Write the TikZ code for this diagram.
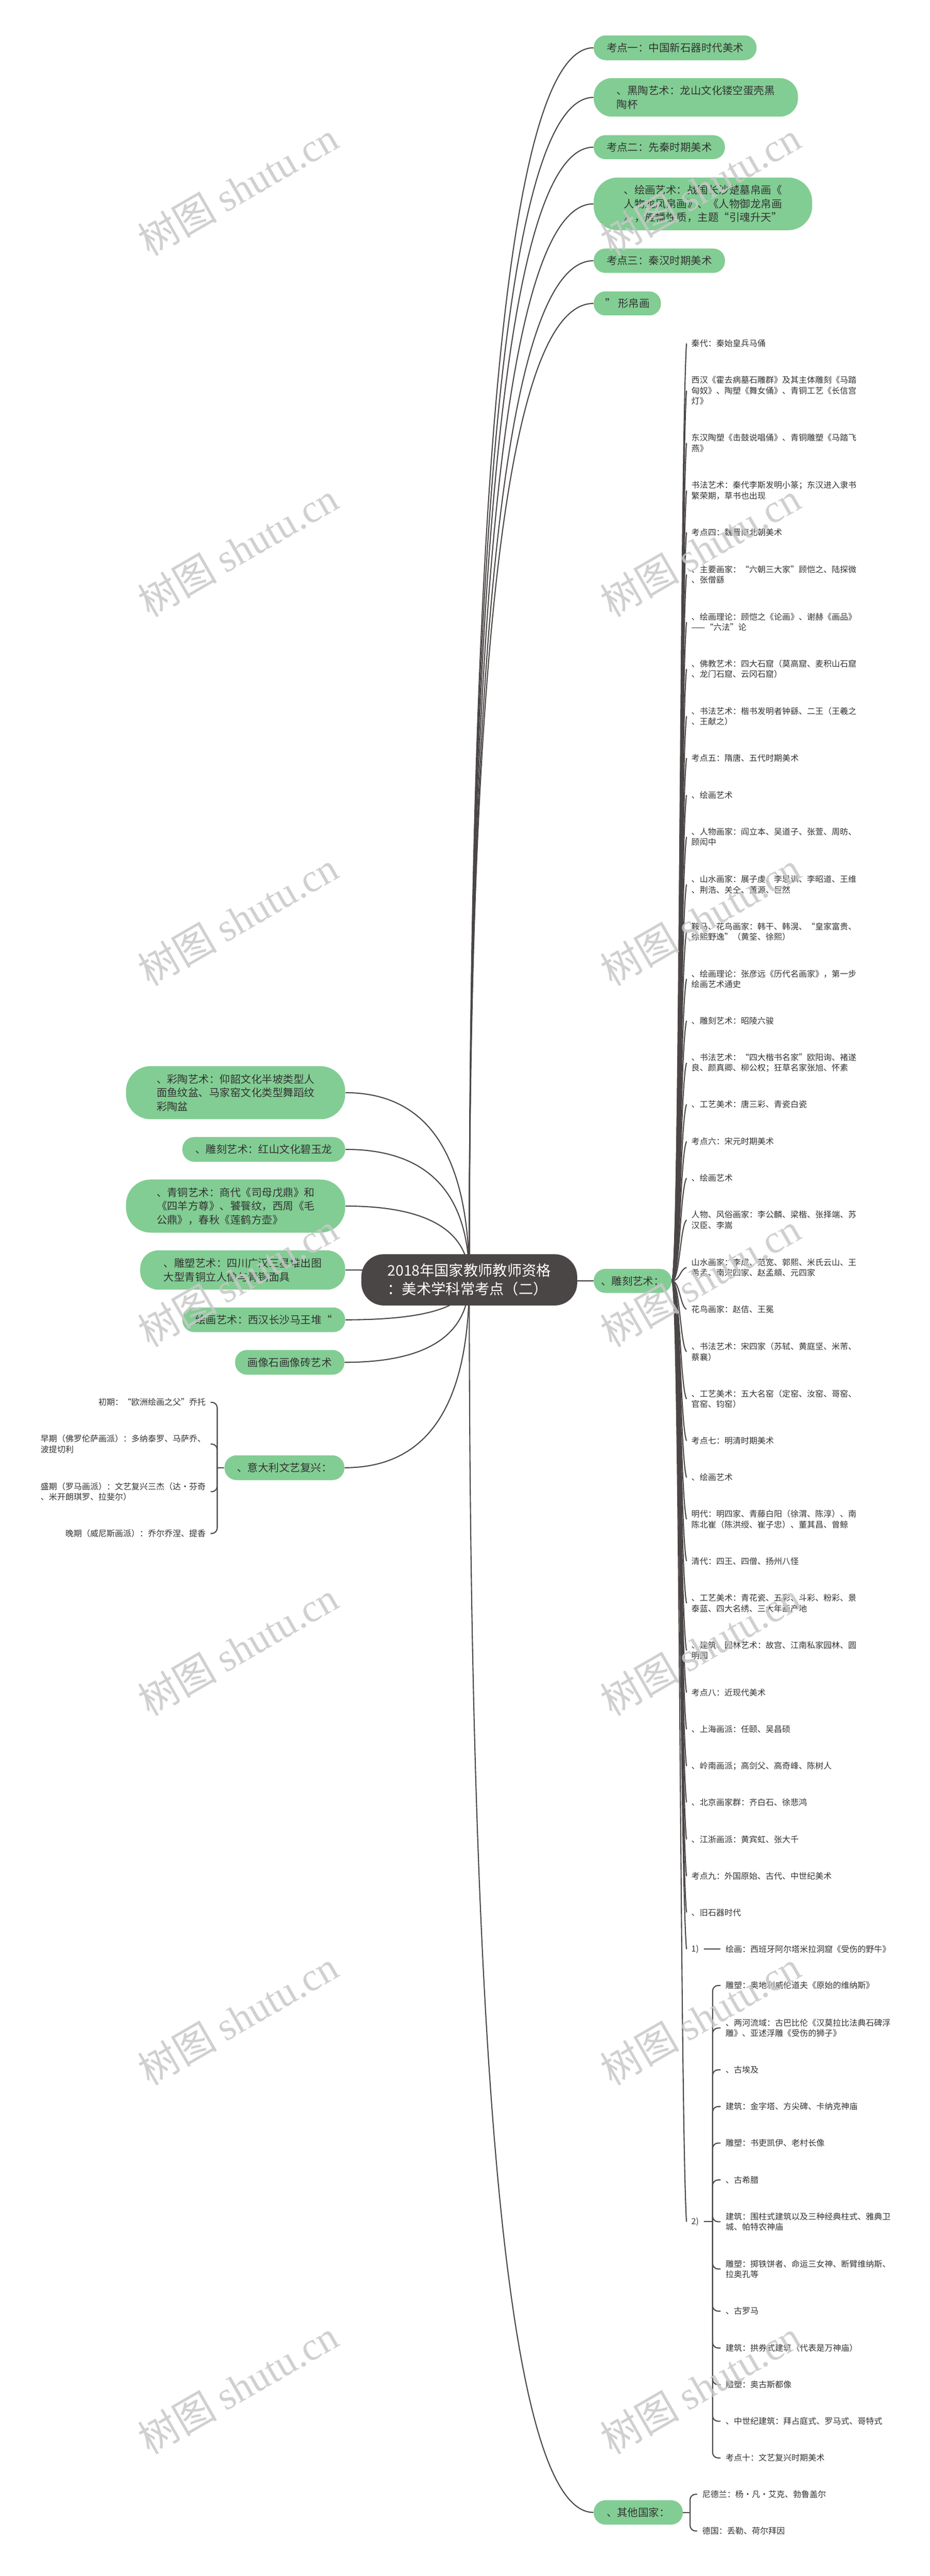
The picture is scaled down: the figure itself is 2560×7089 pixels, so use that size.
\documentclass[tikz,border=0pt]{standalone}
\usepackage{fontspec}
\setmainfont{Noto Sans CJK SC}
\newfontfamily\wmserif{Liberation Serif}
\usetikzlibrary{calc}
\definecolor{gfill}{RGB}{130,205,147}
\definecolor{rootfill}{RGB}{75,70,70}
\definecolor{linec}{RGB}{75,70,70}
\definecolor{txt}{RGB}{51,51,51}
\definecolor{wm}{RGB}{200,200,200}
\pgfdeclarelayer{bg}
\pgfsetlayers{bg,main}
\begin{document}
\begin{tikzpicture}[x=0.01cm,y=-0.01cm,
  conn/.style={draw=linec,line width=0.85pt},
  gnode/.style={fill=gfill,anchor=west,inner sep=0pt,align=left,text=txt,font=\fontsize{8.25pt}{10.67pt}\selectfont},
  gleft/.style={gnode,anchor=east},
  rootnode/.style={fill=rootfill,inner sep=0pt,align=left,text=white,font=\fontsize{11.4pt}{14.65pt}\selectfont,rounded corners=0.62cm,minimum width=5.94cm,minimum height=1.41cm},
  item/.style={anchor=west,inner xsep=0.13cm,inner ysep=0pt,align=left,text=txt,font=\fontsize{6.46pt}{8.25pt}\selectfont},
  litem/.style={item,anchor=east},
  wmark/.style={text=wm,opacity=0.85,rotate=30,inner sep=0pt,font=\fontsize{31pt}{31pt}\selectfont},
]
\useasboundingbox (0,0) rectangle (2560,7089);

% root
\node[rootnode] (root) at (1292,3522) {2018年国家教师教师资格\\：美术学科常考点（二）};

% right top green nodes
\node[gnode,minimum width=4.48cm,minimum height=0.68cm,rounded corners=0.33cm] (g1) at (1634,131.5) {考点一：中国新石器时代美术};
\node[gnode,minimum width=5.62cm,minimum height=1.06cm,rounded corners=0.5cm] (g2) at (1634,268) {、黑陶艺术：龙山文化镂空蛋壳黑\\陶杯};
\node[gnode,minimum width=3.61cm,minimum height=0.66cm,rounded corners=0.32cm] (g3) at (1634,405) {考点二：先秦时期美术};
\node[gnode,minimum width=6.01cm,minimum height=1.45cm,rounded corners=0.66cm] (g4) at (1634,561) {、绘画艺术：战国长沙楚墓帛画《\\人物龙凤帛画》、《人物御龙帛画\\》，旌幡性质，主题“引魂升天”};
\node[gnode,minimum width=3.61cm,minimum height=0.67cm,rounded corners=0.32cm] (g5) at (1634,717.5) {考点三：秦汉时期美术};
\node[gnode,minimum width=1.85cm,minimum height=0.66cm,rounded corners=0.32cm] (g6) at (1634,835) {” 形帛画};
\node[gnode,minimum width=2.14cm,minimum height=0.66cm,rounded corners=0.32cm] (g7) at (1634,3525) {、雕刻艺术：};
\node[gnode,minimum width=2.45cm,minimum height=0.67cm,rounded corners=0.32cm] (g8) at (1634,6914) {、其他国家：};

% left green nodes
\node[gleft,minimum width=6.03cm,minimum height=1.46cm,rounded corners=0.68cm] (l1) at (951,3007) {、彩陶艺术：仰韶文化半坡类型人\\面鱼纹盆、马家窑文化类型舞蹈纹\\彩陶盆};
\node[gleft,minimum width=4.48cm,minimum height=0.68cm,rounded corners=0.33cm] (l2) at (951,3163) {、雕刻艺术：红山文化碧玉龙};
\node[gleft,minimum width=6.03cm,minimum height=1.46cm,rounded corners=0.68cm] (l3) at (951,3319) {、青铜艺术：商代《司母戊鼎》和\\《四羊方尊》、饕餮纹，西周《毛\\公鼎》，春秋《莲鹤方壶》};
\node[gleft,minimum width=5.64cm,minimum height=1.08cm,rounded corners=0.5cm] (l4) at (951,3495) {、雕塑艺术：四川广汉三星堆出图\\大型青铜立人像与青铜面具};
\node[gleft,minimum width=4.48cm,minimum height=0.68cm,rounded corners=0.33cm] (l5) at (951,3632) {绘画艺术：西汉长沙马王堆“};
\node[gleft,minimum width=3.01cm,minimum height=0.68cm,rounded corners=0.33cm] (l6) at (949,3749) {画像石画像砖艺术};
\node[gleft,minimum width=3.30cm,minimum height=0.68cm,rounded corners=0.33cm] (l7) at (949,4039) {、意大利文艺复兴：};

% right column items
\node[item] (r1) at (1890,945) {秦代：秦始皇兵马俑};
\node[item] (r2) at (1890,1075) {西汉《霍去病墓石雕群》及其主体雕刻《马踏\\匈奴》、陶塑《舞女俑》、青铜工艺《长信宫\\灯》};
\node[item] (r3) at (1890,1219) {东汉陶塑《击鼓说唱俑》、青铜雕塑《马踏飞\\燕》};
\node[item] (r4) at (1890,1350) {书法艺术：秦代李斯发明小篆；东汉进入隶书\\繁荣期，草书也出现};
\node[item] (r5) at (1890,1465) {考点四：魏晋南北朝美术};
\node[item] (r6) at (1890,1581) {、主要画家：“六朝三大家”顾恺之、陆探微\\、张僧繇};
\node[item] (r7) at (1890,1712) {、绘画理论：顾恺之《论画》、谢赫《画品》\\——“六法”论};
\node[item] (r8) at (1890,1841) {、佛教艺术：四大石窟（莫高窟、麦积山石窟\\、龙门石窟、云冈石窟）};
\node[item] (r9) at (1890,1971) {、书法艺术：楷书发明者钟繇、二王（王羲之\\、王献之）};
\node[item] (r10) at (1890,2086) {考点五：隋唐、五代时期美术};
\node[item] (r11) at (1890,2188) {、绘画艺术};
\node[item] (r12) at (1890,2303) {、人物画家：阎立本、吴道子、张萱、周昉、\\顾闳中};
\node[item] (r13) at (1890,2434) {、山水画家：展子虔、李思训、李昭道、王维\\、荆浩、关仝、董源、巨然};
\node[item] (r14) at (1890,2564) {鞍马、花鸟画家：韩干、韩滉、“皇家富贵、\\徐熙野逸”（黄筌、徐熙）};
\node[item] (r15) at (1890,2694) {、绘画理论：张彦远《历代名画家》，第一步\\绘画艺术通史};
\node[item] (r16) at (1890,2809) {、雕刻艺术：昭陵六骏};
\node[item] (r17) at (1890,2925) {、书法艺术：“四大楷书名家”欧阳询、褚遂\\良、颜真卿、柳公权；狂草名家张旭、怀素};
\node[item] (r18) at (1890,3039) {、工艺美术：唐三彩、青瓷白瓷};
\node[item] (r19) at (1890,3141) {考点六：宋元时期美术};
\node[item] (r20) at (1890,3242) {、绘画艺术};
\node[item] (r21) at (1890,3357) {人物、风俗画家：李公麟、梁楷、张择端、苏\\汉臣、李嵩};
\node[item] (r22) at (1890,3488) {山水画家：李成、范宽、郭熙、米氏云山、王\\希孟、南宋四家、赵孟頫、元四家};
\node[item] (r23) at (1890,3603) {花鸟画家：赵佶、王冕};
\node[item] (r24) at (1890,3720) {、书法艺术：宋四家（苏轼、黄庭坚、米芾、\\蔡襄）};
\node[item] (r25) at (1890,3850) {、工艺美术：五大名窑（定窑、汝窑、哥窑、\\官窑、钧窑）};
\node[item] (r26) at (1890,3965) {考点七：明清时期美术};
\node[item] (r27) at (1890,4066) {、绘画艺术};
\node[item] (r28) at (1890,4181) {明代：明四家、青藤白阳（徐渭、陈淳）、南\\陈北崔（陈洪绶、崔子忠）、董其昌、曾鲸};
\node[item] (r29) at (1890,4296) {清代：四王、四僧、扬州八怪};
\node[item] (r30) at (1890,4412) {、工艺美术：青花瓷、五彩、斗彩、粉彩、景\\泰蓝、四大名绣、三大年画产地};
\node[item] (r31) at (1890,4542) {、建筑、园林艺术：故宫、江南私家园林、圆\\明园};
\node[item] (r32) at (1890,4658) {考点八：近现代美术};
\node[item] (r33) at (1890,4759) {、上海画派：任颐、吴昌硕};
\node[item] (r34) at (1890,4860) {、岭南画派；高剑父、高奇峰、陈树人};
\node[item] (r35) at (1890,4960) {、北京画家群：齐白石、徐悲鸿};
\node[item] (r36) at (1890,5062) {、江浙画派：黄宾虹、张大千};
\node[item] (r37) at (1890,5163) {考点九：外国原始、古代、中世纪美术};
\node[item] (r38) at (1890,5263) {、旧石器时代};
\node[item] (n1) at (1890,5364) {1)};
\node[item] (n2) at (1890,6114) {2)};

\node[item] (n1c) at (1984,5364) {绘画：西班牙阿尔塔米拉洞窟《受伤的野牛》};

\node[item] (c1) at (1984,5464) {雕塑：奥地利威伦道夫《原始的维纳斯》};
\node[item] (c2) at (1984,5581) {、两河流域：古巴比伦《汉莫拉比法典石碑浮\\雕》、亚述浮雕《受伤的狮子》};
\node[item] (c3) at (1984,5696) {、古埃及};
\node[item] (c4) at (1984,5797) {建筑：金字塔、方尖碑、卡纳克神庙};
\node[item] (c5) at (1984,5897.5) {雕塑：书吏凯伊、老村长像};
\node[item] (c6) at (1984,5999) {、古希腊};
\node[item] (c7) at (1984,6114) {建筑：围柱式建筑以及三种经典柱式、雅典卫\\城、帕特农神庙};
\node[item] (c8) at (1984,6244) {雕塑：掷铁饼者、命运三女神、断臂维纳斯、\\拉奥孔等};
\node[item] (c9) at (1984,6360) {、古罗马};
\node[item] (c10) at (1984,6461.5) {建筑：拱券式建筑（代表是万神庙）};
\node[item] (c11) at (1984,6562.5) {雕塑：奥古斯都像};
\node[item] (c12) at (1984,6663) {、中世纪建筑：拜占庭式、罗马式、哥特式};
\node[item] (c13) at (1984,6764) {考点十：文艺复兴时期美术};

\node[item] (d1) at (1920,6864) {尼德兰：杨·凡·艾克、勃鲁盖尔};
\node[item] (d2) at (1920,6965) {德国：丢勒、荷尔拜因};

\node[litem] (e1) at (580,3859) {初期：“欧洲绘画之父”乔托};
\node[litem] (e2) at (580,3974) {早期（佛罗伦萨画派）：多纳泰罗、马萨乔、\\波提切利};
\node[litem] (e3) at (580,4105) {盛期（罗马画派）：文艺复兴三杰（达·芬奇\\、米开朗琪罗、拉斐尔）};
\node[litem] (e4) at (580,4220) {晚期（威尼斯画派）：乔尔乔涅、提香};

\coordinate (b2) at (1962,6114);
\coordinate (b8) at (1900,6914);
\coordinate (b7) at (598,4039);

\begin{pgfonlayer}{bg}
\fill[white] (0,0) rectangle (2560,7089);
% root to right nodes
\foreach \n/\y in {g1/131.5,g2/268,g3/405,g4/561,g5/717.5,g6/835,g7/3525,g8/6914}
  \draw[conn] (root.center) .. controls (1292,{3522+2/3*(\y-3522)}) and (1406,\y) .. (\n.west);
% root to left nodes
\foreach \n/\y in {l1/3007,l2/3163,l3/3319,l4/3495,l5/3632,l6/3749,l7/4039}
  \draw[conn] (root.center) .. controls (1292,{3522+2/3*(\y-3522)}) and (1178,\y) .. (\n.east);
% right column
\foreach \n/\y in {r1/945,r2/1075,r3/1219,r4/1350,r5/1465,r6/1581,r7/1712,r8/1841,r9/1971,r10/2086,r11/2188,r12/2303,r13/2434,r14/2564,r15/2694,r16/2809,r17/2925,r18/3039,r19/3141,r20/3242,r21/3357,r22/3488,r23/3603,r24/3720,r25/3850,r26/3965,r27/4066,r28/4181,r29/4296,r30/4412,r31/4542,r32/4658,r33/4759,r34/4860,r35/4960,r36/5062,r37/5163,r38/5263,n1/5364,n2/6114}
  \draw[conn] (g7.east) .. controls (1872,3525) and (1872,{\y+0.12*(3525-\y)}) .. (\n.west);
\draw[conn] (n1.east) -- (n1c.west);
\draw[conn] (n2.east) -- (b2);
\foreach \n in {c1,c2,c3,c4,c5,c6,c7,c8,c9,c10,c11,c12,c13}
  \draw[conn,rounded corners=0.15cm] (b2) |- (\n.west);
\draw[conn] (g8.east) -- (b8);
\foreach \n in {d1,d2}
  \draw[conn,rounded corners=0.15cm] (b8) |- (\n.west);
\draw[conn] (l7.west) -- (b7);
\foreach \n in {e1,e2,e3,e4}
  \draw[conn,rounded corners=0.15cm] (b7) |- (\n.east);
\end{pgfonlayer}

% watermarks
\foreach \y [count=\i] in {519,1512,2528,3522,4537,5553,6569} {
  \node[wmark] (wl\i) at (655,\y) {树图 {\wmserif shutu.cn}};
  \node[wmark] (wr\i) at (1928,\y) {树图 {\wmserif shutu.cn}};
}
\end{tikzpicture}
\end{document}
